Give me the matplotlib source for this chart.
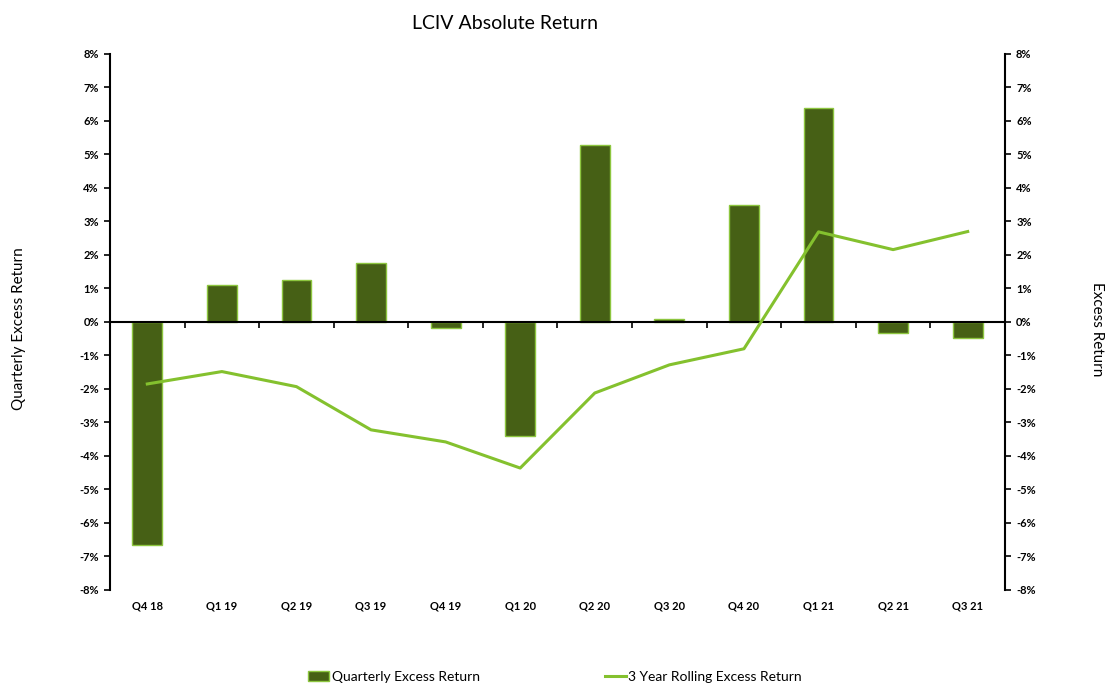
import matplotlib
matplotlib.use("Agg")
import matplotlib.pyplot as plt
import matplotlib.transforms as mtransforms
import numpy as np
from matplotlib.ticker import FuncFormatter

plt.rcParams['font.family'] = ['Lato', 'DejaVu Sans']

categories = ["Q4 18", "Q1 19", "Q2 19", "Q3 19", "Q4 19", "Q1 20",
              "Q2 20", "Q3 20", "Q4 20", "Q1 21", "Q2 21", "Q3 21"]
quarterly_excess = [-6.65, 1.10, 1.25, 1.77, -0.18, -3.40,
                    5.29, 0.10, 3.50, 6.38, -0.32, -0.47]
rolling_excess = [-1.85, -1.48, -1.93, -3.22, -3.58, -4.36,
                  -2.12, -1.28, -0.80, 2.69, 2.16, 2.70]
yticks = list(range(-8, 9))

bar_color = "#466015"
edge_color = "#8DC63F"
line_color = "#84C12E"

fig = plt.figure(figsize=(11.10, 6.85), dpi=100)
ax = fig.add_axes([0.0991, 0.1387, 0.9054 - 0.0991, 0.9212 - 0.1387])

x = np.arange(len(categories))
ax.bar(x, quarterly_excess, width=0.4, color=bar_color, edgecolor=edge_color,
       linewidth=1.0, zorder=2, label="Quarterly Excess Return")
ax.set_xlim(-0.5, len(categories) - 0.5)
ax.set_ylim(-8, 8)

ax2 = ax.twinx()
ax2.plot(x, rolling_excess, color=line_color, linewidth=2.2, zorder=3,
         label="3 Year Rolling Excess Return")
ax2.set_ylim(-8, 8)
ax2.set_xlim(-0.5, len(categories) - 0.5)

fmt = FuncFormatter(lambda v, p: f"{int(v)}%")
for a in (ax, ax2):
    a.set_yticks(yticks)
    a.yaxis.set_major_formatter(fmt)
    a.spines['top'].set_visible(False)
    a.tick_params(axis='y', labelsize=8, length=4, width=1.2, pad=4)
    for lbl in a.get_yticklabels():
        lbl.set_fontweight('bold')
ax.spines['left'].set_linewidth(1.5)
ax2.spines['right'].set_linewidth(1.5)
ax.spines['right'].set_visible(False)
ax2.spines['left'].set_visible(False)
ax2.spines['bottom'].set_visible(False)

# zero axis with boundary ticks pointing down
ax.spines['bottom'].set_position(('data', 0))
ax.spines['bottom'].set_linewidth(1.5)
ax.set_xticks(np.arange(-0.5, len(categories), 1.0))
ax.set_xticklabels([])
ax.tick_params(axis='x', length=4, width=1.2, direction='out')

# category labels at the bottom of the plot area
trans = mtransforms.blended_transform_factory(ax.transData, ax.transAxes)
for xi, cat in zip(x, categories):
    ax.text(xi, -0.03, cat, transform=trans, ha='center', va='center',
            fontsize=8, fontweight='bold')

fig.text(0.017, 0.52, "Quarterly Excess Return", fontsize=11, rotation=90,
         ha='center', va='center')
fig.text(0.988, 0.52, "Excess Return", fontsize=11, rotation=-90,
         ha='center', va='center')

fig.text(0.455, 0.965, "LCIV Absolute Return", ha='center', va='center', fontsize=14)

h1, l1 = ax.get_legend_handles_labels()
h2, l2 = ax2.get_legend_handles_labels()
fig.legend(h1 + h2, l1 + l2, loc='center', bbox_to_anchor=(0.5, 0.012),
           ncol=2, frameon=False, fontsize=10, columnspacing=9,
           handlelength=1.5, handletextpad=0.2)

fig.savefig("out.png", dpi=100)
